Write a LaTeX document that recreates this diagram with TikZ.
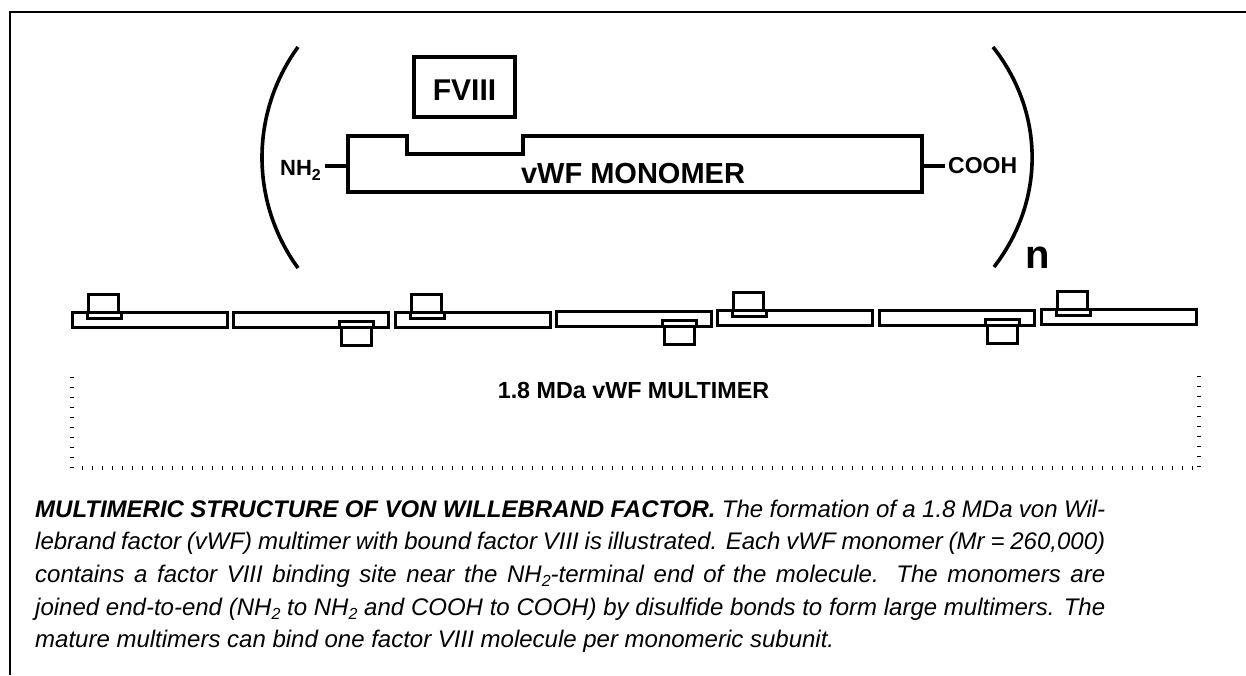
\documentclass[tikz,border=0pt]{standalone}
\usepackage{fontspec}
\setmainfont{Liberation Sans}
\newcommand\subtw[2]{\raisebox{-#2}{\fontsize{#1}{#1}\selectfont 2}}
\begin{document}
\begin{tikzpicture}[x=1pt,y=-1pt,
  frame/.style={line width=2pt},
  bigline/.style={line width=4pt, line join=miter},
  brack/.style={line width=3.6pt},
  smline/.style={line width=3pt, line join=miter},
  lab/.style={inner sep=0pt, font=\bfseries},
  dots/.style={line width=4pt, dash pattern=on 1.3pt off 8.7pt},
  monoup/.pic={
    \draw[smline] (0,0) -- (15,0) -- (15,6) -- (49,6) -- (49,0) -- (155,0) -- (155,15) -- (0,15) -- cycle;
    \draw[smline] (16.5,-18) rectangle (46.5,0);
  },
  monodown/.pic={
    \draw[smline] (0,0) -- (155,0) -- (155,15) -- (140,15) -- (140,9) -- (106,9) -- (106,15) -- (0,15) -- cycle;
    \draw[smline] (108.5,15) rectangle (138.5,33);
  }
]
\useasboundingbox (0,0) rectangle (1246,675);
% frame
\draw[frame] (1246,12) -- (10,12) -- (10,675);
% brackets
\draw[brack] (298,47) .. controls (250,113) and (250,202) .. (298,268);
\draw[brack] (993,47) .. controls (1045,113) and (1045,201) .. (994,267);
\node[lab, font=\bfseries\fontsize{40}{40}\selectfont, anchor=base] (n) at (1038,268) {n};
% big monomer
\node[draw, line width=4pt, minimum width=101pt, minimum height=60pt, inner sep=0pt] (fviii) at (464.5,87) {};
\node[lab, font=\bfseries\fontsize{30}{30}\selectfont, anchor=base] (fviiitxt) at (464.5,100) {FVIII};
\draw[bigline] (348,136) -- (407,136) -- (407,154) -- (523,154) -- (523,136) -- (922,136) -- (922,192) -- (348,192) -- cycle;
\coordinate (monoL) at (346,166);
\coordinate (monoR) at (924,166);
\node[lab, font=\bfseries\fontsize{29}{29}\selectfont, anchor=base] (monotxt) at (633,183) {vWF MONOMER};
\node[lab, font=\bfseries\fontsize{22}{22}\selectfont, anchor=base east] (nh2) at (321,175) {NH\subtw{16}{5pt}};
\node[lab, font=\bfseries\fontsize{23}{23}\selectfont, anchor=base west] (cooh) at (948,173) {COOH};
\coordinate (nhd) at (325,166);
\coordinate (cod) at (945,166);
\draw[line width=4pt] (nhd) -- (monoL);
\draw[line width=4pt] (monoR) -- (cod);
% multimer
\pic at (72,312) {monoup};
\pic at (233,312) {monodown};
\pic at (395,312) {monoup};
\pic at (556,311) {monodown};
\pic at (717,310) {monoup};
\pic at (879,310) {monodown};
\pic at (1041,309) {monoup};
% dotted bracket
\draw[dots] (72,376.5) -- (72,470);
\draw[dots] (81.5,468) -- (1195,468);
\draw[dots] (1199,375.5) -- (1199,469);
\node[lab, font=\bfseries\fontsize{23.3}{23.3}\selectfont, anchor=base] (multimer) at (633.5,398) {1.8 MDa vWF MULTIMER};
% caption
\node[anchor=base west, inner sep=0pt] (caption) at (35,517) {\parbox[t]{1070pt}{\itshape\fontsize{24}{32.7}\selectfont
\hyphenpenalty=10000 \exhyphenpenalty=10000 \tolerance=10000 \parindent=0pt
{\bfseries MULTIMERIC STRUCTURE OF VON WILLEBRAND FACTOR.} The formation of a 1.8 MDa von Wil-\linebreak
lebrand factor (vWF) multimer with bound factor VIII is illustrated. Each vWF monomer (Mr = 260,000)\linebreak
contains a factor VIII binding site near the NH\subtw{16}{4pt}-terminal end of the molecule. The monomers are\linebreak
joined end-to-end (NH\subtw{16}{4pt} to NH\subtw{16}{4pt} and COOH to COOH) by disulfide bonds to form large multimers. The\linebreak
mature multimers can bind one factor VIII molecule per monomeric subunit.}};
\end{tikzpicture}
\end{document}
